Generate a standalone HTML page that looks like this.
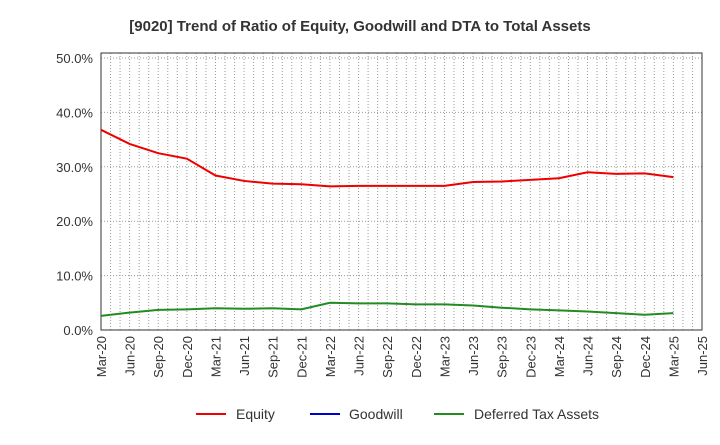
<!DOCTYPE html>
<html><head><meta charset="utf-8"><style>body{margin:0;background:#fff}svg{font-family:"Liberation Sans",sans-serif}</style></head>
<body>
<svg id="c" width="720" height="440" xmlns="http://www.w3.org/2000/svg">
<text x="360" y="31" text-anchor="middle" font-size="15" font-weight="bold" fill="#333">[9020]  Trend of Ratio of Equity, Goodwill and DTA to Total Assets</text>
<g id="grid"></g><g id="axes"></g><g id="series"></g>
<g>
<line x1="196" y1="414" x2="226" y2="414" stroke="#e00" stroke-width="2"/><text x="236" y="419" font-size="14" fill="#333">Equity</text>
<line x1="310" y1="414" x2="340" y2="414" stroke="#00c" stroke-width="2"/><text x="349" y="419" font-size="14" fill="#333">Goodwill</text>
<line x1="434" y1="414" x2="464" y2="414" stroke="#228b22" stroke-width="2"/><text x="474" y="419" font-size="14" fill="#333">Deferred Tax Assets</text>
</g>
</svg>
<script>
const categories=["Mar-20","Jun-20","Sep-20","Dec-20","Mar-21","Jun-21","Sep-21","Dec-21","Mar-22","Jun-22","Sep-22","Dec-22","Mar-23","Jun-23","Sep-23","Dec-23","Mar-24","Jun-24","Sep-24","Dec-24","Mar-25","Jun-25"];
const equity=[36.8,34.2,32.5,31.5,28.4,27.4,26.9,26.8,26.4,26.5,26.5,26.5,26.5,27.2,27.3,27.6,27.9,29.0,28.7,28.8,28.1];
const dta=[2.6,3.2,3.7,3.8,4.0,3.9,4.0,3.8,5.0,4.9,4.9,4.7,4.7,4.5,4.1,3.8,3.6,3.4,3.1,2.8,3.1];
const goodwill=[];
const yTicks=[0,10,20,30,40,50];
const L=101,R=702,T=53,B=330;
const x=i=>L+(R-L)*i/(categories.length-1);
const y=v=>B-(B-58)*v/50;
const NS="http://www.w3.org/2000/svg";
function mk(t,a,p){const e=document.createElementNS(NS,t);for(const k in a)e.setAttribute(k,a[k]);p.appendChild(e);return e;}
const g=document.getElementById('grid'),ax=document.getElementById('axes'),s=document.getElementById('series');
for(let m=1;m<(categories.length-1)*3;m++){const xx=L+(R-L)*m/((categories.length-1)*3);
const l=mk('line',{x1:xx,x2:xx,y1:T,y2:B,stroke:'#999','stroke-dasharray':'1,2','stroke-width':1},g);

}
yTicks.forEach(v=>{const l=mk('line',{x1:L,x2:R,y1:y(v),y2:y(v),stroke:'#999','stroke-dasharray':'1,2'},g);


const t=mk('text',{x:L-8,y:y(v)+5,'text-anchor':'end','font-size':13,fill:'#333'},ax);t.textContent=v.toFixed(1)+'%';

});
const fr=mk('rect',{x:L,y:T,width:R-L,height:B-T,fill:'none',stroke:'#333'},ax);


categories.forEach((c,i)=>{const t=mk('text',{x:0,y:0,transform:`translate(${x(i)+5},${B+6}) rotate(-90)`,'text-anchor':'end','font-size':13,fill:'#333'},ax);t.textContent=c;

});
function line(d,col,name){if(!d.length)return;const p=mk('polyline',{points:d.map((v,i)=>x(i)+','+y(v)).join(' '),fill:'none',stroke:col,'stroke-width':2},s);

}
line(equity,'#e00','equity-line');line(goodwill,'#00c','goodwill-line');line(dta,'#228b22','dta-line');
</script>
</body></html>
